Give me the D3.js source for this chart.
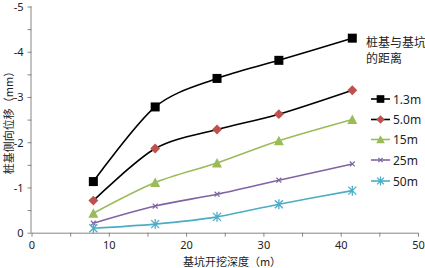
<!DOCTYPE html>
<html>
<head>
<meta charset="utf-8">
<script src="https://cdn.jsdelivr.net/npm/d3@7"></script>
<style>
  body { margin: 0; background: #fff; overflow: hidden; }
  text { font-family: "Noto Sans CJK SC", "Noto Sans", sans-serif; fill: #222; }
</style>
</head>
<body>
<script>
// depth of excavation (m)
const depths = [8, 16, 24, 32, 41.5];
const seriesNames = ["1.3m", "5.0m", "15m", "25m", "50m"];
const s13 = [-1.13, -2.78, -3.41, -3.81, -4.30];
const s50 = [-0.71, -1.86, -2.28, -2.62, -3.15];
const s15 = [-0.43, -1.11, -1.54, -2.03, -2.50];
const s25 = [-0.21, -0.59, -0.85, -1.16, -1.52];
const s500 = [-0.10, -0.19, -0.35, -0.63, -0.93];
const xTicks = [0, 10, 20, 30, 40, 50];
const yTicks = [0, -1, -2, -3, -4, -5];

const styles = [
  {line: "#000", fill: "#000", marker: "square"},
  {line: "#000", fill: "#C0504D", marker: "diamond"},
  {line: "#9BBB59", fill: "#9BBB59", marker: "triangle"},
  {line: "#8064A2", fill: "#8064A2", marker: "x"},
  {line: "#4BACC6", fill: "#4BACC6", marker: "star"}
];
const allValues = [s13, s50, s15, s25, s500];

const width = 425, height = 268;
const svg = d3.select("body").append("svg")
  .attr("width", width).attr("height", height);

const xScale = d3.scaleLinear().domain([0, 50]).range([31.5, 418]);
const yScale = d3.scaleLinear().domain([0, -5]).range([232.7, 6.5]);

// axes
const xAxis = d3.axisBottom(xScale).tickValues(d3.range(0, 51, 5))
  .tickSize(4).tickFormat(d => xTicks.includes(d) ? d : "");
const yAxis = d3.axisLeft(yScale).tickValues(d3.range(0, -5.01, -0.5))
  .tickSize(4).tickFormat(d => yTicks.includes(d) ? d : "");

function styleAxis(g) {
  g.select(".domain").attr("stroke", "#868686");
  g.selectAll(".tick line").attr("stroke", "#868686");
  g.selectAll(".tick text").style("font-size", "11px")
    .style("font-family", '"Noto Sans", sans-serif').attr("fill", "#222");
}

svg.append("g").attr("class", "xaxis")
  .attr("transform", "translate(0," + yScale(0) + ")")
  .call(xAxis).call(styleAxis)
  .selectAll(".tick text").attr("dy", "0.71em").attr("y", 9);

svg.append("g").attr("class", "yaxis")
  .attr("transform", "translate(" + xScale(0) + ",0)")
  .call(yAxis).call(styleAxis)
  .selectAll(".tick text").attr("x", -8).attr("dy", "0.36em");

svg.select(".xaxis .domain").attr("d", "M" + xScale(0) + ",0.5H" + xScale(50));
svg.select(".yaxis .domain").attr("d", "M-0.5," + yScale(0) + "V" + yScale(-5));

// axis titles
svg.append("text")
  .attr("x", 232).attr("y", 266)
  .attr("text-anchor", "middle")
  .style("font-size", "11px")
  .text("基坑开挖深度（m）");

svg.append("text")
  .attr("transform", "translate(12.5,120) rotate(-90)")
  .attr("text-anchor", "middle")
  .style("font-size", "11px")
  .text("桩基侧向位移（mm）");

function drawMarker(g, type, fill, size) {
  const s = size;
  if (type === "square") {
    g.append("rect").attr("x", -s / 2).attr("y", -s / 2)
      .attr("width", s).attr("height", s).attr("fill", fill);
  } else if (type === "diamond") {
    const r = s * 0.55;
    g.append("path").attr("d", `M0,${-r}L${r},0L0,${r}L${-r},0Z`)
      .attr("fill", fill);
  } else if (type === "triangle") {
    const h = s;
    g.append("path").attr("d", `M0,${-h / 2 - 0.5}L${h / 2 + 0.5},${h / 2}L${-h / 2 - 0.5},${h / 2}Z`)
      .attr("fill", fill);
  } else if (type === "x") {
    const r = s * 0.35;
    g.append("path").attr("d", `M${-r},${-r}L${r},${r}M${-r},${r}L${r},${-r}`)
      .attr("stroke", fill).attr("stroke-width", 1.2);
  } else if (type === "star") {
    const r = s * 0.5;
    g.append("path").attr("d", `M${-r},${-r}L${r},${r}M${-r},${r}L${r},${-r}M0,${-r - 1}V${r + 1}`)
      .attr("stroke", fill).attr("stroke-width", 1.3);
  }
}

const line = d3.line()
  .x((d, i) => xScale(depths[i]))
  .y(d => yScale(d))
  .curve(d3.curveCardinal.tension(0.1));

const sizes = [9, 9, 9, 7, 8];

allValues.forEach((vals, k) => {
  const st = styles[k];
  const g = svg.append("g").attr("class", "series");
  g.append("path").datum(vals)
    .attr("d", line)
    .attr("fill", "none")
    .attr("stroke", st.line)
    .attr("stroke-width", 1.6);
  vals.forEach((v, i) => {
    const m = g.append("g")
      .attr("transform", "translate(" + xScale(depths[i]) + "," + yScale(v) + ")");
    drawMarker(m, st.marker, st.fill, sizes[k]);
  });
});

// legend
const legend = svg.append("g").attr("class", "legend");
legend.append("text").attr("x", 366).attr("y", 47)
  .style("font-size", "12px").text("桩基与基坑");
legend.append("text").attr("x", 366).attr("y", 63)
  .style("font-size", "12px").text("的距离");

const rowY = [99, 119.5, 139.5, 160, 181];
seriesNames.forEach((name, k) => {
  const st = styles[k];
  const row = legend.append("g").attr("transform", "translate(0," + rowY[k] + ")");
  row.append("line").attr("x1", 371).attr("x2", 390)
    .attr("stroke", st.line).attr("stroke-width", 1.6);
  const m = row.append("g").attr("transform", "translate(380.5,0)");
  drawMarker(m, st.marker, st.fill, sizes[k] * 0.85);
  row.append("text").attr("x", 393).attr("y", 4.5)
    .style("font-size", "12px")
    .style("font-family", '"Noto Sans", sans-serif')
    .text(name);
});
</script>
</body>
</html>
